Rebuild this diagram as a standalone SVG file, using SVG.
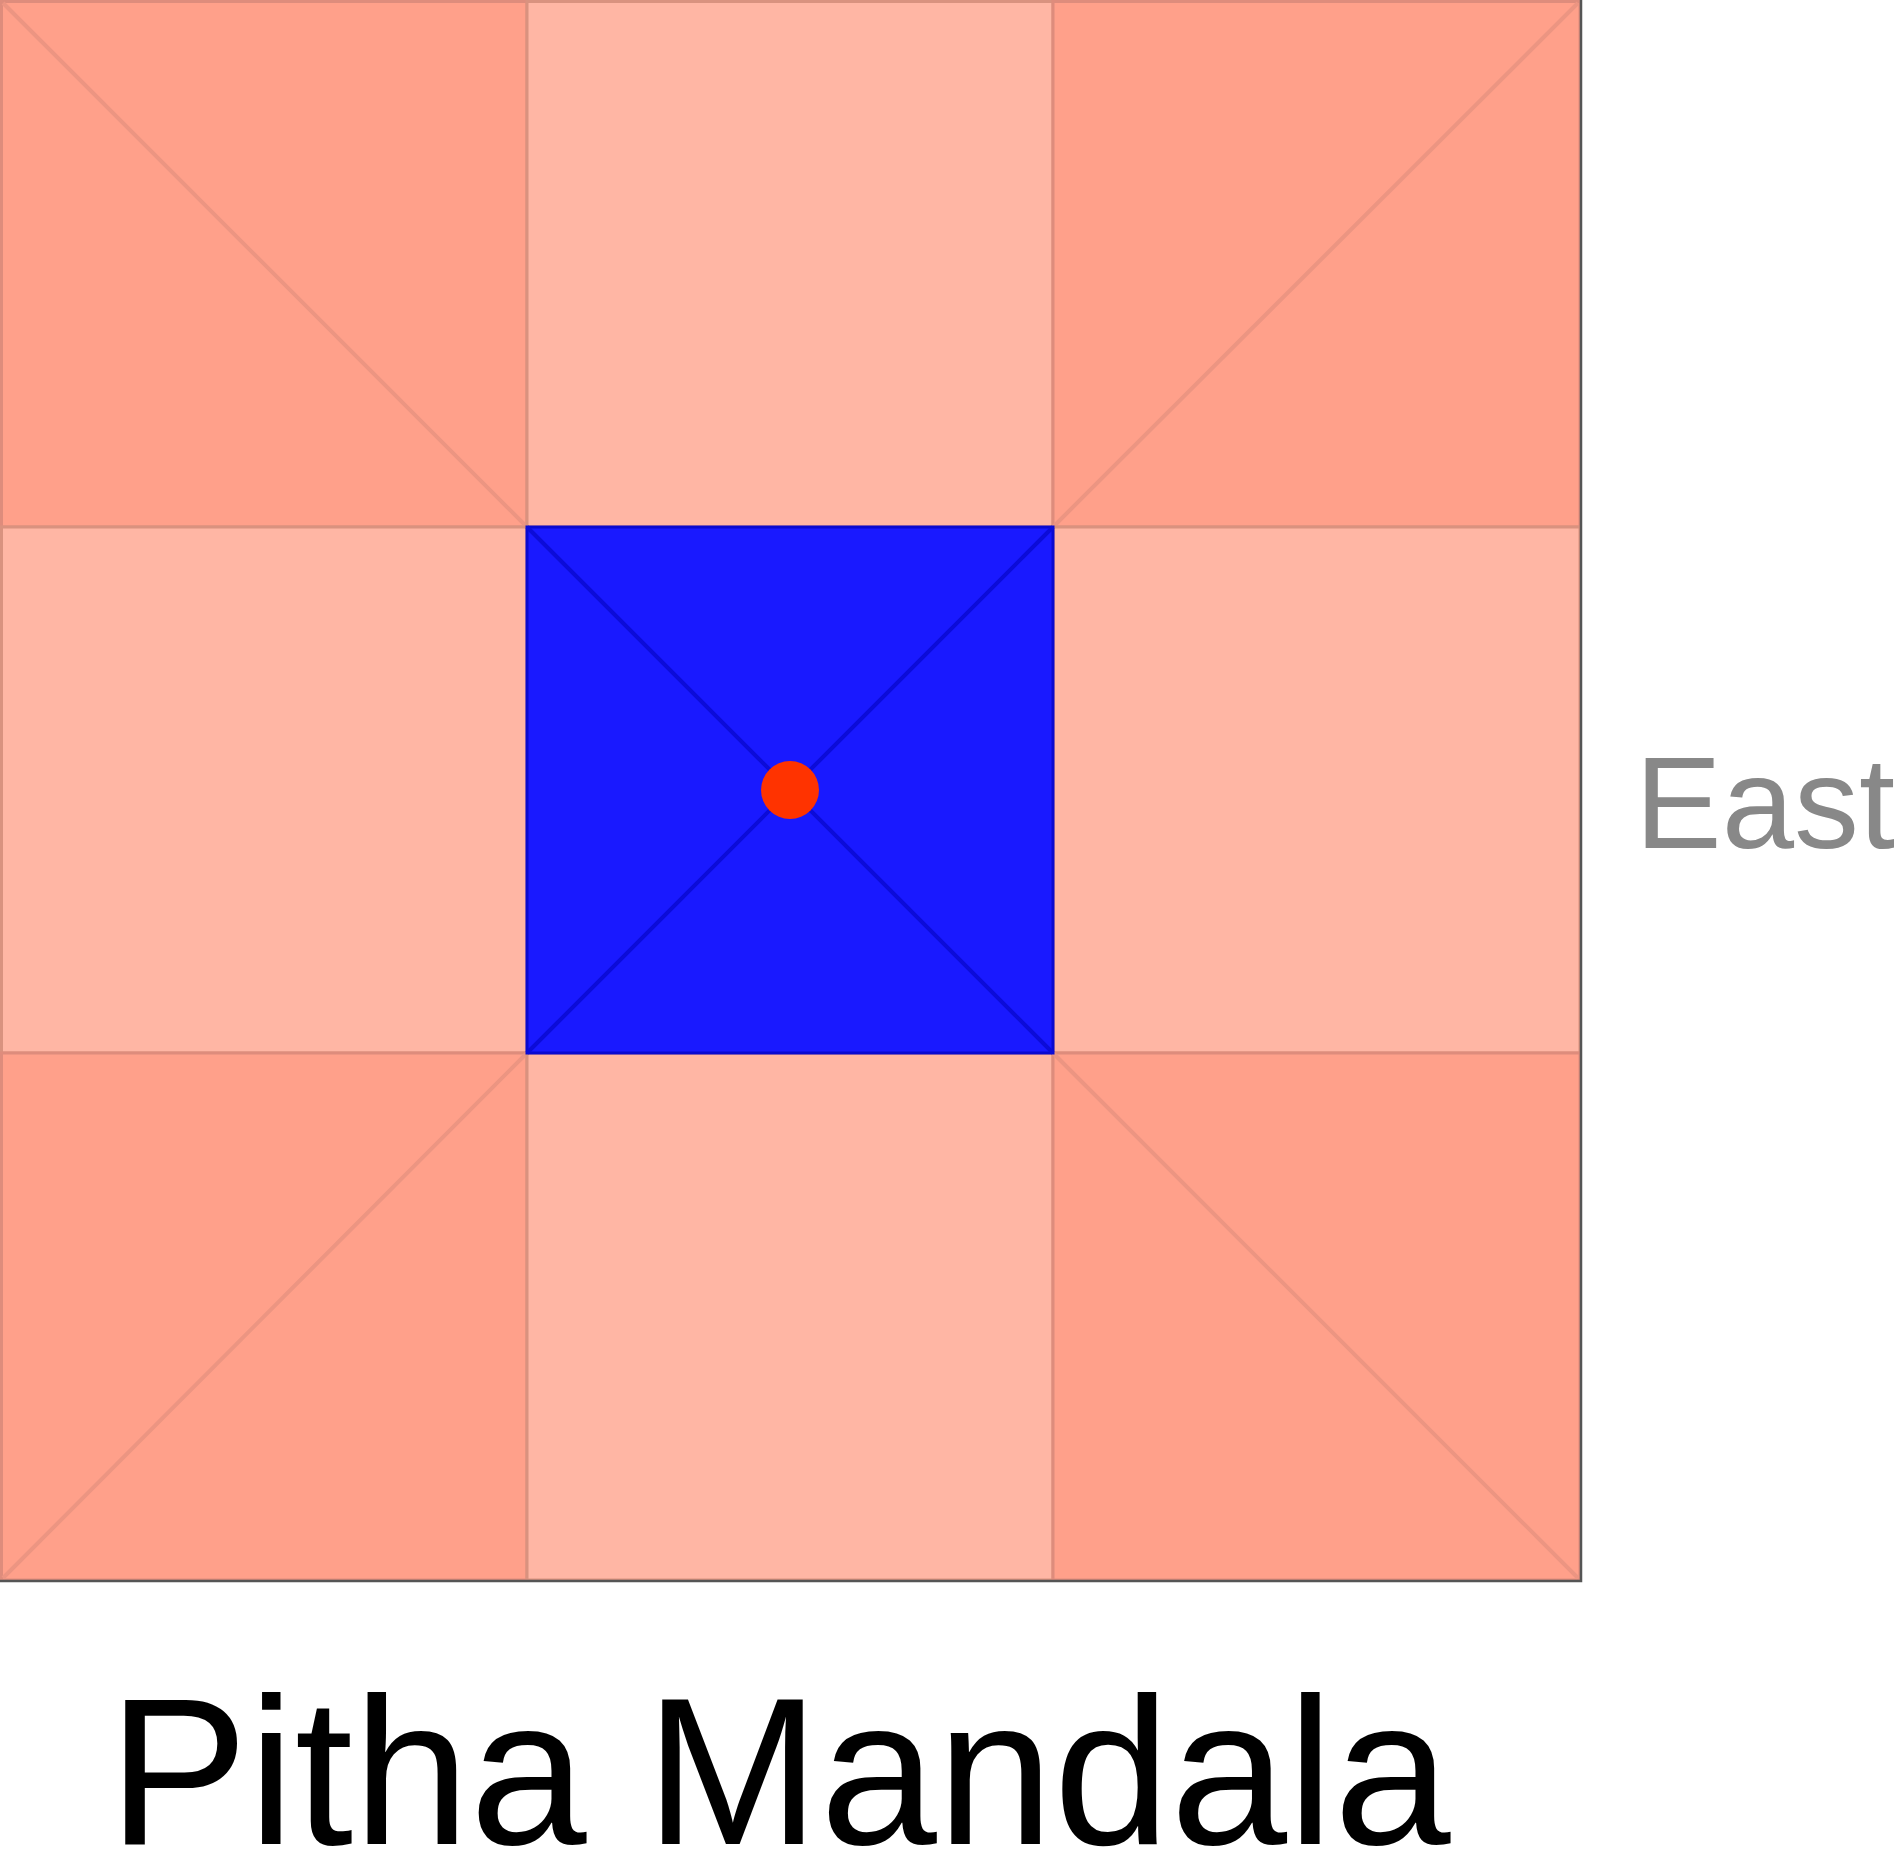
<svg xmlns="http://www.w3.org/2000/svg" width="1894" height="1849" viewBox="0 0 1894 1849">
<style>
.corner{fill:#FFA08A;stroke:#DE8C7C;stroke-width:3}
.edge{fill:#FFB6A4;stroke:#D9927F;stroke-width:3}
.diag{stroke:#EC9582;stroke-width:4;fill:none}
.bdiag{stroke:#0C0CD8;stroke-width:4;fill:none}
.lbl{font-family:"Liberation Sans",Arial,sans-serif}
</style>
<rect width="1894" height="1849" fill="#FFFFFF"/>
<g id="cell-nw"><rect class="corner" x="1.5" y="1.5" width="525.5" height="525.5"/><line class="diag" x1="3" y1="3" x2="527" y2="527"/></g>
<g id="cell-n"><rect class="edge" x="527" y="1.5" width="526" height="525.5"/></g>
<g id="cell-ne"><rect class="corner" x="1053" y="1.5" width="527" height="525.5"/><line class="diag" x1="1578" y1="3" x2="1053" y2="527"/></g>
<g id="cell-w"><rect class="edge" x="1.5" y="527" width="525.5" height="526"/></g>
<g id="cell-e"><rect class="edge" x="1053" y="527" width="527" height="526"/></g>
<g id="cell-sw"><rect class="corner" x="1.5" y="1053" width="525.5" height="527"/><line class="diag" x1="3" y1="1578" x2="527" y2="1053"/></g>
<g id="cell-s"><rect class="edge" x="527" y="1053" width="526" height="527"/></g>
<g id="cell-se"><rect class="corner" x="1053" y="1053" width="527" height="527"/><line class="diag" x1="1053" y1="1053" x2="1578" y2="1578"/></g>
<g id="cell-center"><rect x="527" y="527" width="526" height="526" fill="#1919FF" stroke="#0A0AD0" stroke-width="3"/><line class="bdiag" x1="527" y1="527" x2="1053" y2="1053"/><line class="bdiag" x1="1053" y1="527" x2="527" y2="1053"/></g>
<g id="frame"><polyline points="1581,0 1581,1581 0,1581" fill="none" stroke="#555555" stroke-width="2.5"/></g>
<g id="bindu"><circle cx="790" cy="790" r="29" fill="#FF3300"/></g>
<g id="label-east"><text class="lbl" x="1635" y="848" font-size="130" fill="#888888">East</text></g>
<g id="title"><text class="lbl" x="108" y="1844" font-size="210" fill="#000000">Pitha Mandala</text></g>
</svg>
